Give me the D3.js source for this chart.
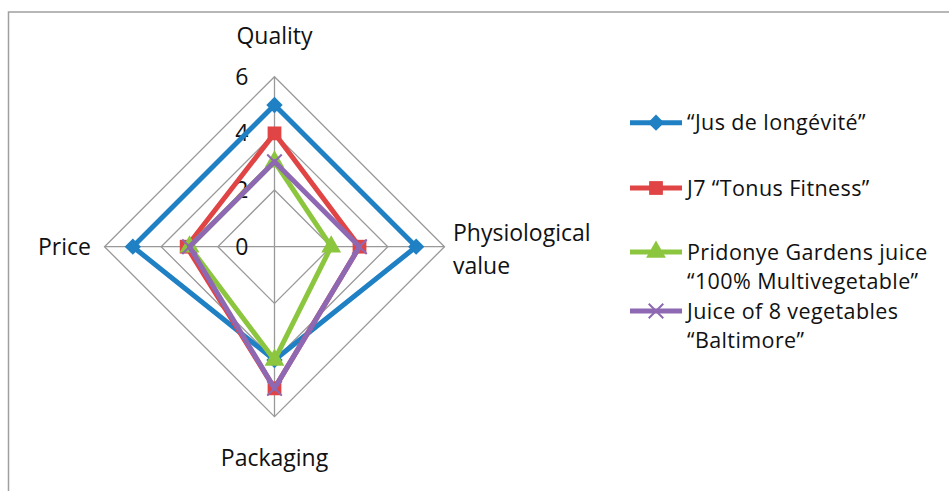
<!DOCTYPE html>
<html>
<head>
<meta charset="utf-8">
<script src="https://cdn.jsdelivr.net/npm/d3@7"></script>
<style>
  body { margin: 0; background: #fff; }
  svg text { font-family: "Open Sans", sans-serif; fill: #111; }
</style>
</head>
<body>
<svg width="949" height="491"></svg>
<script>
const axesNames = ["Quality", "Physiological value", "Packaging", "Price"]
const ticks = [0, 2, 4, 6]

const seriesNames = [
	["\u201cJus de longévité\u201d"],
	["J7 \u201cTonus Fitness\u201d"],
	["Pridonye Gardens juice", "\u201c100% Multivegetable\u201d"],
	["Juice of 8 vegetables", "\u201cBaltimore\u201d"]
]
// order: Quality, Physiological value, Packaging, Price
const jusLongevite = [5, 5, 4, 5]
const tonusFitness = [4, 3, 5, 3.1]
const pridonye = [3, 2, 4, 3]
const baltimore = [3, 3, 5, 3]

const colors = ["#1f80c4", "#e04444", "#8cc63f", "#8e68b2"]
const symbols = [d3.symbolDiamond2, d3.symbolSquare, d3.symbolTriangle, d3.symbolX]
const symSize = [170, 190, 170, 140]
const fontSize = "23px"

const svg = d3.select("svg")
const cx = 274.5, cy = 246.7

// chart frame (clipped by the page on the right and bottom)
svg.append("rect")
	.attr("x", 8.5).attr("y", 12)
	.attr("width", 960).attr("height", 500)
	.attr("fill", "none")
	.attr("stroke", "#a0a0a0")
	.attr("stroke-width", 1.5)

const r = d3.scaleLinear().domain([0, 6]).range([0, 170])
const angle = d3.scalePoint().domain(axesNames).range([0, 2 * Math.PI * 3 / 4])

function pt(name, v) {
	const a = angle(name) - Math.PI / 2
	return [cx + r(v) * Math.cos(a), cy + r(v) * Math.sin(a)]
}

const g = svg.append("g")

// grid rings
g.selectAll("path.ring")
	.data(ticks.filter(t => t > 0))
	.join("path")
	.attr("class", "ring")
	.attr("d", t => d3.line()(axesNames.map(n => pt(n, t))) + "Z")
	.attr("fill", "none")
	.attr("stroke", "#999")
	.attr("stroke-width", 1.3)

// spokes
g.selectAll("line.spoke")
	.data(axesNames)
	.join("line")
	.attr("class", "spoke")
	.attr("x1", cx).attr("y1", cy)
	.attr("x2", n => pt(n, 6)[0])
	.attr("y2", n => pt(n, 6)[1])
	.attr("stroke", "#999")
	.attr("stroke-width", 1.3)

// tick labels
g.selectAll("text.tick")
	.data(ticks)
	.join("text")
	.attr("class", "tick")
	.attr("x", cx - 26)
	.attr("y", t => cy - r(t) + 8)
	.attr("text-anchor", "end")
	.style("font-size", fontSize)
	.text(t => t)

// axis labels
const labelPos = {
	"Quality": { x: cx, y: 44, anchor: "middle" },
	"Physiological value": { x: 453, y: 241, anchor: "start" },
	"Packaging": { x: cx, y: 466, anchor: "middle" },
	"Price": { x: 91, y: 255, anchor: "end" }
}
axesNames.forEach(n => {
	const p = labelPos[n]
	const t = g.append("text")
		.attr("x", p.x).attr("y", p.y)
		.attr("text-anchor", p.anchor)
		.style("font-size", fontSize)
	if (n === "Physiological value") {
		t.append("tspan").attr("x", p.x).text("Physiological")
		t.append("tspan").attr("x", p.x).attr("dy", 33).text("value")
	} else {
		t.text(n)
	}
})

const allSeries = [jusLongevite, tonusFitness, pridonye, baltimore]

allSeries.forEach((vals, i) => {
	const pts = vals.map((v, k) => pt(axesNames[k], v))
	g.append("path")
		.attr("d", d3.line()(pts) + "Z")
		.attr("fill", "none")
		.attr("stroke", colors[i])
		.attr("stroke-width", 5)
		.attr("stroke-linejoin", "round")
	g.selectAll(null)
		.data(pts)
		.join("path")
		.attr("transform", d => "translate(" + d + ")")
		.attr("d", d3.symbol().type(symbols[i]).size(symSize[i]))
		.attr("fill", i === 3 ? "none" : colors[i])
		.attr("stroke", colors[i])
		.attr("stroke-width", i === 3 ? 2 : 0)
})

// legend
const legendY = [122.7, 188, 252, 311]
const lineGap = 29.5
const legend = svg.append("g")
seriesNames.forEach((lines, i) => {
	const y = legendY[i]
	legend.append("line")
		.attr("x1", 630).attr("x2", 682)
		.attr("y1", y).attr("y2", y)
		.attr("stroke", colors[i])
		.attr("stroke-width", 5)
	legend.append("path")
		.attr("transform", "translate(656," + y + ")")
		.attr("d", d3.symbol().type(symbols[i]).size(symSize[i]))
		.attr("fill", i === 3 ? "none" : colors[i])
		.attr("stroke", colors[i])
		.attr("stroke-width", i === 3 ? 2 : 0)
	lines.forEach((s, k) => {
		legend.append("text")
			.attr("x", 687).attr("y", y + 7.5 + k * lineGap)
			.style("font-size", "21.5px")
			.style("letter-spacing", "0.4px")
			.text(s)
	})
})
</script>
</body>
</html>
